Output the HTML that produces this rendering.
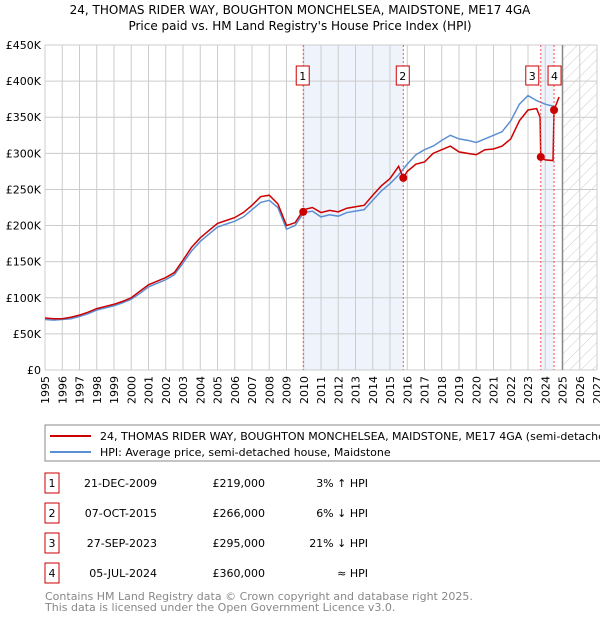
<!DOCTYPE html>
<html><head><meta charset="utf-8"><style>
body{margin:0;background:#fff;font-family:"Liberation Sans","DejaVu Sans",sans-serif}
svg text{font-family:"DejaVu Sans","Liberation Sans",sans-serif}
</style></head><body>
<svg id="c" width="600" height="620" xmlns="http://www.w3.org/2000/svg">
<defs><pattern id="h" width="8" height="8" patternUnits="userSpaceOnUse" patternTransform="rotate(45)"><line x1="0" y1="0" x2="0" y2="8" stroke="#ccc" stroke-width="1"/></pattern></defs>
<text x="300" y="14" text-anchor="middle" font-size="12">24, THOMAS RIDER WAY, BOUGHTON MONCHELSEA, MAIDSTONE, ME17 4GA</text>
<text x="300" y="30" text-anchor="middle" font-size="12">Price paid vs. HM Land Registry's House Price Index (HPI)</text>
<g id="plot"></g>
<rect x="45" y="425" width="560" height="36" fill="none" stroke="#888"/>
<line x1="50" y1="436" x2="91" y2="436" stroke="#cc0000" stroke-width="2"/>
<text x="100" y="440" font-size="11">24, THOMAS RIDER WAY, BOUGHTON MONCHELSEA, MAIDSTONE, ME17 4GA (semi-detached house)</text>
<line x1="50" y1="452" x2="91" y2="452" stroke="#5b8fd4" stroke-width="2"/>
<text x="100" y="456" font-size="11">HPI: Average price, semi-detached house, Maidstone</text>
<g id="tbl" font-size="11"></g>
<text x="45" y="600" font-size="11" fill="#888">Contains HM Land Registry data © Crown copyright and database right 2025.</text>
<text x="45" y="611" font-size="11" fill="#888">This data is licensed under the Open Government Licence v3.0.</text>
</svg>
<script>
const hpiX=[1995,1995.5,1996,1996.5,1997,1997.5,1998,1998.5,1999,1999.5,2000,2000.5,2001,2001.5,2002,2002.5,2003,2003.5,2004,2004.5,2005,2005.5,2006,2006.5,2007,2007.5,2008,2008.5,2009,2009.5,2010,2010.5,2011,2011.5,2012,2012.5,2013,2013.5,2014,2014.5,2015,2015.5,2016,2016.5,2017,2017.5,2018,2018.5,2019,2019.5,2020,2020.5,2021,2021.5,2022,2022.5,2023,2023.5,2024,2024.5];
const hpiY=[70,69,70,71,74,78,83,86,89,93,98,106,115,120,125,132,148,165,178,188,198,202,206,212,222,232,235,225,195,200,218,220,212,215,213,218,220,222,235,248,258,270,285,298,305,310,318,325,320,318,315,320,325,330,345,368,380,373,368,365];
const redX=[1995,1995.5,1996,1996.5,1997,1997.5,1998,1998.5,1999,1999.5,2000,2000.5,2001,2001.5,2002,2002.5,2003,2003.5,2004,2004.5,2005,2005.5,2006,2006.5,2007,2007.5,2008,2008.5,2009,2009.5,2010,2010.5,2011,2011.5,2012,2012.5,2013,2013.5,2014,2014.5,2015,2015.5,2015.77,2016,2016.5,2017,2017.5,2018,2018.5,2019,2019.5,2020,2020.5,2021,2021.5,2022,2022.5,2023,2023.5,2023.7,2023.74,2024,2024.45,2024.51,2024.8];
const redY=[72,71,71,73,76,80,85,88,91,95,100,109,118,123,128,135,152,170,183,193,203,207,211,218,228,240,242,230,200,204,222,225,218,221,219,224,226,228,242,255,265,282,266,275,285,288,300,305,310,302,300,298,305,306,310,320,345,360,362,350,295,291,290,360,378];
const saleX=[2009.97,2015.77,2023.74,2024.51];
const saleY=[219,266,295,360];
const saleLbl=["1","2","3","4"];
const yTicks=[0,50,100,150,200,250,300,350,400,450];
const years=[];for(let y=1995;y<=2027;y++)years.push(y);
const dates=["21-DEC-2009","07-OCT-2015","27-SEP-2023","05-JUL-2024"];
const prices=["£219,000","£266,000","£295,000","£360,000"];
const rel=["3% ↑ HPI","6% ↓ HPI","21% ↓ HPI","≈ HPI"];
const L=45,R=597,T=45,B=370;
const sx=v=>L+(v-1995)/(2027-1995)*(R-L);
const sy=v=>B-v/450*(B-T);
const NS="http://www.w3.org/2000/svg";
function mk(p,t,a){const e=document.createElementNS(NS,t);for(const k in a)e.setAttribute(k,a[k]);p.appendChild(e);return e;}
const g=document.getElementById('plot');
let e;
e=mk(g,'rect',{x:sx(saleX[0]),y:T,width:sx(saleX[1])-sx(saleX[0]),height:B-T,fill:'#eef3fc'});


e=mk(g,'rect',{x:sx(saleX[2]),y:T,width:sx(saleX[3])-sx(saleX[2]),height:B-T,fill:'#eef3fc'});


e=mk(g,'rect',{x:sx(2025),y:T,width:R-sx(2025),height:B-T,fill:'url(#h)'});


years.forEach(y=>{
  e=mk(g,'line',{x1:sx(y),x2:sx(y),y1:T,y2:B,stroke:'#ccc'});
  
  
  e=mk(g,'text',{x:0,y:0,'text-anchor':'end','font-size':11,transform:'translate('+(sx(y)+4)+','+(B+6)+') rotate(-90)'});
  e.textContent=y;
  
  
});
yTicks.forEach(v=>{
  e=mk(g,'line',{x1:L,x2:R,y1:sy(v),y2:sy(v),stroke:'#ccc'});
  
  
  e=mk(g,'text',{x:L-4,y:sy(v)+4,'text-anchor':'end','font-size':11});
  e.textContent=v===0?'£0':'£'+v+'K';
  
  
});
e=mk(g,'line',{x1:sx(2025),x2:sx(2025),y1:T,y2:B,stroke:'#888','stroke-width':1.5});


e=mk(g,'path',{d:'M'+hpiX.map((x,i)=>sx(x)+','+sy(hpiY[i])).join('L'),fill:'none',stroke:'#5b8fd4','stroke-width':1.5});


e=mk(g,'path',{d:'M'+redX.map((x,i)=>sx(x)+','+sy(redY[i])).join('L'),fill:'none',stroke:'#cc0000','stroke-width':1.5});


saleX.forEach((x,i)=>{
  e=mk(g,'line',{x1:sx(x),x2:sx(x),y1:T,y2:B,stroke:'#e55','stroke-dasharray':'2,2'});
  
  
  e=mk(g,'circle',{cx:sx(x),cy:sy(saleY[i]),r:4,fill:'#cc0000'});
  
  
  const bx=i===2?sx(x)-15:(i===3?sx(x)-6:sx(x)-7);
  e=mk(g,'rect',{x:bx,y:66,width:13,height:19,fill:'#fff',stroke:'#cc0000'});
  
  
  e=mk(g,'text',{x:bx+6.5,y:80,'text-anchor':'middle','font-size':11});
  e.textContent=saleLbl[i];
  
  
});
const t=document.getElementById('tbl');
const rows=[483,513,543,573];
rows.forEach((y,i)=>{
  e=mk(t,'rect',{x:45,y:y-10,width:14,height:20,fill:'#fff',stroke:'#cc0000'});
  
  
  e=mk(t,'text',{x:52,y:y+4,'text-anchor':'middle'});e.textContent=saleLbl[i];
  
  
  e=mk(t,'text',{x:157,y:y+4,'text-anchor':'end'});e.textContent=dates[i];
  
  
  e=mk(t,'text',{x:265,y:y+4,'text-anchor':'end'});e.textContent=prices[i];
  
  
  e=mk(t,'text',{x:368,y:y+4,'text-anchor':'end'});e.textContent=rel[i];
  
  
});
</script>
</body></html>
